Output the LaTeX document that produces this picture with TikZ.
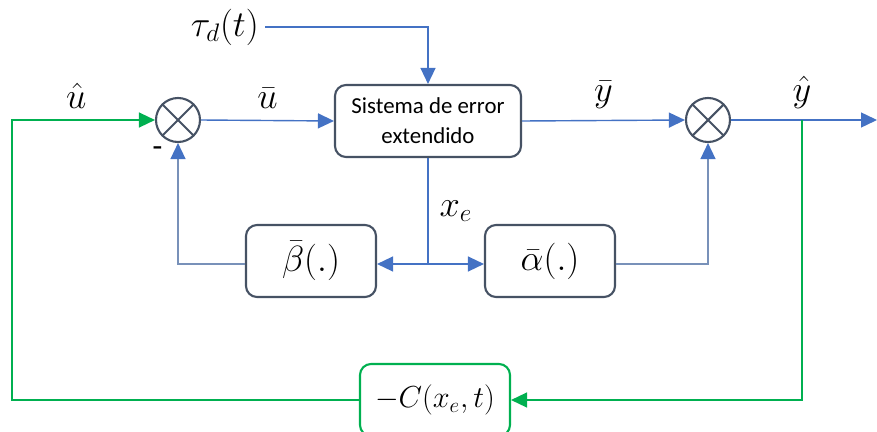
\documentclass[tikz,border=0pt]{standalone}
\usepackage{fontspec}
\newfontfamily\boxfont{Carlito}
\usetikzlibrary{arrows.meta,positioning}
\definecolor{lineblue}{RGB}{68,114,196}
\definecolor{paleblue}{RGB}{120,145,185}
\definecolor{boxgray}{RGB}{70,82,100}
\definecolor{loopgreen}{RGB}{0,176,80}

\begin{document}
\begin{tikzpicture}[x=0.2mm,y=-0.2mm,>={Triangle[length=3.2mm,width=3mm]},
    block/.style={draw=boxgray,line width=1.2pt,rounded corners=2.2mm,fill=white,
                  minimum width=26mm,minimum height=14.4mm,inner sep=0pt,font=\huge},
    junction/.style={draw=boxgray,line width=1.2pt,circle,minimum size=8.8mm,inner sep=0pt,
                     path picture={\draw[boxgray,line width=1.2pt]
                        (path picture bounding box.south west) -- (path picture bounding box.north east)
                        (path picture bounding box.north west) -- (path picture bounding box.south east);}},
    sig/.style={lineblue,line width=0.8pt},
    fb/.style={paleblue,line width=0.8pt,-{Triangle[length=3.2mm,width=3mm,color=lineblue]}},
    gsig/.style={loopgreen,line width=0.8pt},
    lbl/.style={font=\huge,text=black}]

    \useasboundingbox (0,0) rectangle (877,432);

    \node[junction] (s1) at (178,120) {};
    \node[junction] (s2) at (708,120) {};
    \node[block,minimum width=37.2mm,font=\boxfont\fontsize{13}{17}\selectfont,align=center] (sys) at (428,121)
        {Sistema de error\\extendido};
    \node[block] (beta) at (311,261) {$\bar{\beta}(.)$};
    \node[block] (alpha) at (550,261) {$\bar{\alpha}(.)$};
    \node[block,draw=loopgreen,minimum width=30mm,font=\LARGE] (ctrl) at (435,400) {$-C(x_e,t)$};

    \node[lbl,anchor=east] (tau) at (265,27) {$\tau_d(t)$};
    \coordinate (xe) at (428,264);
    \coordinate (out) at (877,120);
    \coordinate (tap) at (802,120);

    % forward path
    \draw[sig,->] (tau.east) -| (sys.north);
    \draw[sig,->] (s1.east) -- node[lbl,above=1mm] {$\bar{u}$} (sys.west);
    \draw[sig,->] (sys.east) -- node[lbl,above=1mm] {$\bar{y}$} (s2.west);
    \draw[sig,->] (s2.east) -- (out);
    \node[lbl,above=1mm] (yhat) at (tap) {$\hat{y}$};

    % inner loops
    \draw[sig] (sys.south) -- node[lbl,right=1mm,pos=0.5] {$x_e$} (xe);
    \draw[sig,->] (xe) -- (beta.east |- xe);
    \draw[sig,->] (xe) -- (alpha.west |- xe);
    \draw[fb] (beta.west |- xe) -| (s1.south);
    \draw[fb] (alpha.east |- xe) -| (s2.south);
    \node[font=\Large\bfseries] (minus) at (158,150) {-};

    % outer loop
    \draw[gsig,->] (tap) |- (ctrl.east);
    \draw[gsig,->] (ctrl.west) -| (12,120) -- node[lbl,above=1mm,pos=0.45] {$\hat{u}$} (s1.west);
\end{tikzpicture}
\end{document}
